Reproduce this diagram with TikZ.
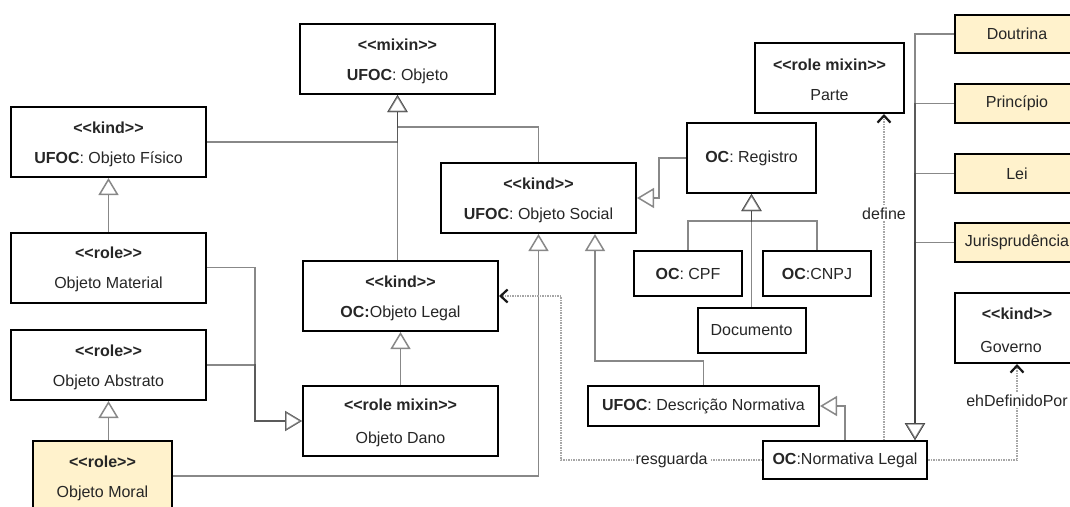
\documentclass[tikz,border=0pt]{standalone}
\usepackage{fontspec}
\setmainfont{Liberation Sans}
\usetikzlibrary{arrows.meta}
\definecolor{yel}{RGB}{255,242,204}
\newcommand\stereo[1]{\rule{0pt}{15.5pt}\textbf{<\kern0pt<#1>\kern0pt>}}
\begin{document}
\begin{tikzpicture}[x=1pt,y=-1pt,
 box/.style={draw=black, line width=2pt, fill=white, inner sep=0pt, align=center,
   font=\fontsize{16}{30}\selectfont, text=black!85},
 ybox/.style={box, fill=yel},
 gen/.style={draw=black!75, draw opacity=0.62, line width=1.8pt,
   -{Triangle[open, fill=white, length=17pt, width=20pt, line width=1.5pt]}},
 assoc/.style={draw=black!35, line width=1.6pt, dash pattern=on 1.5pt off 1pt,
   -{Straight Barb[length=7pt, width=13pt, line width=2.2pt, color=black!90]}},
 lab/.style={fill=white, inner sep=2pt, font=\fontsize{16}{19}\selectfont, text=black!85}]
\useasboundingbox (0,0) rectangle (1070,506);
\clip (0,0) rectangle (1070,506);
\fill[white] (0,0) rectangle (1070,506);

% nodes
\node[box, minimum width=195pt, minimum height=70pt] (objeto) at (397.5,59) {\stereo{mixin}\\\textbf{UFOC}: Objeto};
\node[box, minimum width=195pt, minimum height=70pt] (fisico) at (108.5,142) {\stereo{kind}\\\textbf{UFOC}: Objeto Físico};
\node[box, minimum width=195pt, minimum height=70pt] (material) at (108.5,267.5) {\stereo{role}\\Objeto Material};
\node[box, minimum width=195pt, minimum height=70pt] (abstrato) at (108.5,365) {\stereo{role}\\Objeto Abstrato};
\node[ybox, minimum width=139pt, minimum height=70pt] (moral) at (102.5,476) {\stereo{role}\\Objeto Moral};
\node[box, minimum width=195pt, minimum height=70pt] (social) at (538.5,198) {\stereo{kind}\\\textbf{UFOC}: Objeto Social};
\node[box, minimum width=195pt, minimum height=70pt] (legal) at (400.5,296) {\stereo{kind}\\\textbf{OC:}Objeto Legal};
\node[box, minimum width=195pt, minimum height=70pt] (dano) at (400.5,421) {\stereo{role mixin}\\[3pt]Objeto Dano};
\node[box, minimum width=129pt, minimum height=70pt] (registro) at (751.5,158) {\textbf{OC}: Registro};
\node[box, minimum width=108pt, minimum height=45pt] (cpf) at (688,273.5) {\textbf{OC}: CPF};
\node[box, minimum width=108pt, minimum height=45pt] (cnpj) at (817,273.5) {\textbf{OC}:CNPJ};
\node[box, minimum width=108pt, minimum height=45pt] (documento) at (751.5,330.5) {Documento};
\node[box, minimum width=231pt, minimum height=40pt] (descnorm) at (703.5,406) {\textbf{UFOC}: Descrição Normativa};
\node[box, minimum width=164pt, minimum height=38pt] (normlegal) at (845,460) {\textbf{OC}:Normativa Legal};
\node[box, minimum width=149pt, minimum height=70pt] (parte) at (829.5,78) {\stereo{role mixin}\\Parte};
\node[box, minimum width=124pt, minimum height=70pt] (governo) at (1017,328) {\stereo{kind}\\[3pt]Governo\hspace*{12pt}};
\node[ybox, minimum width=124pt, minimum height=38pt] (doutrina) at (1017,34) {Doutrina};
\node[ybox, minimum width=124pt, minimum height=39pt] (principio) at (1017,103.5) {Princípio};
\node[ybox, minimum width=124pt, minimum height=39pt] (lei) at (1017,173.5) {Lei};
\node[ybox, minimum width=124pt, minimum height=39pt] (juris) at (1017,242.5) {Jurisprudência};

% generalizations
\draw[gen] (fisico.east) -| (objeto.south);
\draw[gen] (social.north) -- ++(0,-35) -| (objeto.south);
\draw[gen] (legal.north -| objeto.south) -- (objeto.south);
\draw[gen] (material.north) -- (fisico.south);
\draw[gen] (moral.north -| abstrato.south) -- (abstrato.south);
\draw[gen] (material.east) -- ++(48,0) |- (dano.west);
\draw[gen] (abstrato.east) -- ++(48,0) |- (dano.west);
\draw[gen] (dano.north) -- (legal.south);
\draw[gen] (moral.east) -| (social.south);
\draw[gen] (descnorm.north) -- ++(0,-24) -| ([xshift=56.5pt]social.south);
\draw[gen] (registro.west) -- ++(-27,0) |- (social.east);
\draw[gen] (cpf.north) -- ++(0,-29) -| (registro.south);
\draw[gen] (cnpj.north) -- ++(0,-29) -| (registro.south);
\draw[gen] (documento.north) -- (registro.south);
\draw[gen] (normlegal.north) |- (descnorm.east);
\draw[gen] (doutrina.west) -| ([xshift=70pt]normlegal.north);
\draw[gen] (principio.west) -| ([xshift=70pt]normlegal.north);
\draw[gen] (lei.west) -| ([xshift=70pt]normlegal.north);
\draw[gen] (juris.west) -| ([xshift=70pt]normlegal.north);

% associations
\draw[assoc] (normlegal.west) -- node[lab, pos=0.45] (lresg) {resguarda} ++(-201,0) |- (legal.east);
\draw[assoc] ([xshift=39pt]normlegal.north) -- node[lab, pos=0.695] (ldef) {define} ([xshift=39pt]normlegal.north |- parte.south);
\draw[assoc] (normlegal.east) -| node[lab, pos=0.81] (lgov) {ehDefinidoPor} (governo.south);
\end{tikzpicture}
\end{document}
